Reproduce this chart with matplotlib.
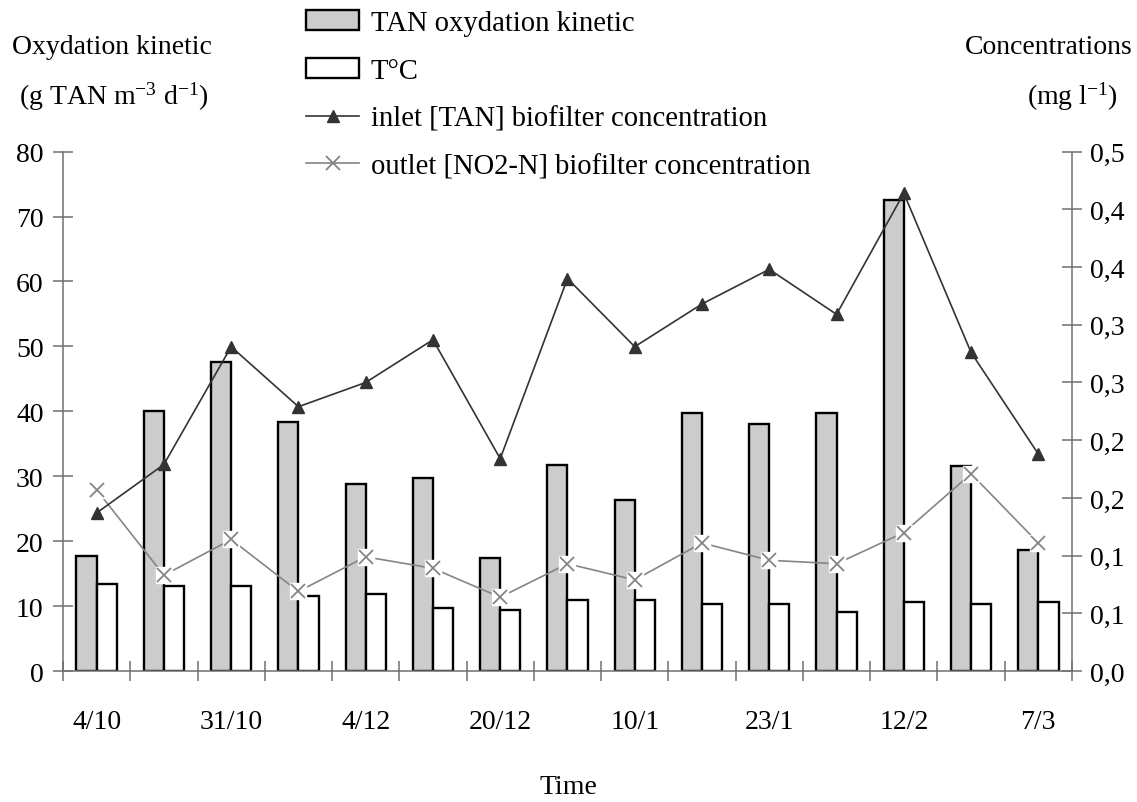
import numpy as np
import matplotlib.pyplot as plt
from matplotlib.patches import Patch
from matplotlib.lines import Line2D

plt.rcParams['font.family'] = ['Liberation Serif', 'DejaVu Serif']
plt.rcParams['mathtext.fontset'] = 'custom'
plt.rcParams['mathtext.rm'] = 'Liberation Serif'
plt.rcParams['mathtext.it'] = 'Liberation Serif:italic'

# -----------------------------
# Data
# -----------------------------
dates = ['4/10', '', '31/10', '', '4/12', '', '20/12', '', '10/1', '',
         '23/1', '', '12/2', '', '7/3']

tan_kinetic = [17.7, 40.0, 47.6, 38.4, 28.8, 29.7, 17.4, 31.8, 26.4, 39.8,
               38.0, 39.8, 72.5, 31.6, 18.6]
temp_c = [13.4, 13.1, 13.1, 11.6, 11.8, 9.7, 9.4, 11.0, 11.0, 10.3,
          10.3, 9.1, 10.6, 10.3, 10.6]
inlet_tan = [0.137, 0.179, 0.281, 0.229, 0.250, 0.287, 0.184, 0.340, 0.281,
             0.318, 0.348, 0.309, 0.414, 0.276, 0.188]
outlet_no2 = [0.157, 0.083, 0.114, 0.069, 0.099, 0.089, 0.064, 0.093, 0.079,
              0.111, 0.096, 0.093, 0.120, 0.171, 0.111]

left_ticks = [0, 10, 20, 30, 40, 50, 60, 70, 80]
right_ticks = [0, 0.05, 0.10, 0.15, 0.20, 0.25, 0.30, 0.35, 0.40, 0.45]
right_labels = ['0,0', '0,1', '0,1', '0,2', '0,2', '0,3', '0,3', '0,4', '0,4', '0,5']

# -----------------------------
# Figure
# -----------------------------
fs = 20
axis_col = '#707070'
fig = plt.figure(figsize=(11.37, 8.03), dpi=100)
ax = fig.add_axes([0.0554, 0.163, 0.8874, 0.647])
ax2 = ax.twinx()
ax2.set_zorder(ax.get_zorder() + 1)
ax2.patch.set_visible(False)

x = np.arange(len(dates))
w = 0.3
ax.bar(x - w / 2, tan_kinetic, w, color='#cccccc', edgecolor='black', linewidth=1.7)
ax.bar(x + w / 2, temp_c, w, color='white', edgecolor='black', linewidth=1.7)

ax2.plot(x, inlet_tan, color='#333333', linewidth=1.2, marker='^',
         markersize=9, zorder=4)
ax2.plot(x, outlet_no2, color='#858585', linewidth=1.2, zorder=3)
ax2.plot(x, outlet_no2, linestyle='none', marker='s', markersize=11,
         color='white', zorder=3.1)
ax2.plot(x, outlet_no2, linestyle='none', marker='x', markersize=10,
         markeredgewidth=1.3, color='#858585', zorder=3.2)

ax.set_xlim(-0.5, len(dates) - 0.5)
ax.set_ylim(0, 80)
ax2.set_ylim(0, 0.45)

ax.set_yticks(left_ticks)
ax.set_yticklabels([str(v) for v in left_ticks])
ax2.set_yticks(right_ticks)
ax2.set_yticklabels(right_labels)

ax.set_xticks(np.arange(-0.5, len(dates), 1))
ax.set_xticklabels([])
ax.set_xticks(x, dates, minor=True)
ax.tick_params(axis='x', which='minor', length=0, pad=27, labelsize=fs)
ax.tick_params(axis='x', which='major', direction='inout', length=14,
               width=1.1, color=axis_col)
ax.tick_params(axis='y', direction='inout', length=14, width=1.1,
               color=axis_col, labelsize=fs, pad=7)
ax2.tick_params(axis='y', direction='inout', length=14, width=1.1,
                color=axis_col, labelsize=fs, pad=6)

for a in (ax, ax2):
    for s in a.spines.values():
        s.set_visible(False)
ax.spines['left'].set_visible(True)
ax.spines['bottom'].set_visible(True)
ax2.spines['right'].set_visible(True)
for s in (ax.spines['left'], ax.spines['bottom'], ax2.spines['right']):
    s.set_color(axis_col)
    s.set_linewidth(1.1)

# -----------------------------
# Axis titles
# -----------------------------
fig.text(112 / 1137, 1 - 47 / 803, 'Oxydation kinetic', ha='center', va='center', fontsize=fs)
fig.text(114 / 1137, 1 - 97 / 803, '(g TAN m$^{-3}$ d$^{-1}$)', ha='center', va='center', fontsize=fs)
fig.text(1133 / 1137, 1 - 47 / 803, 'Concentrations', ha='right', va='center', fontsize=fs)
fig.text(1118 / 1137, 1 - 97 / 803, '(mg l$^{-1}$)', ha='right', va='center', fontsize=fs)
fig.text(568 / 1137, 1 - 788 / 803, 'Time', ha='center', va='center', fontsize=fs)

# -----------------------------
# Legend
# -----------------------------
handles = [
    Patch(facecolor='#cccccc', edgecolor='black', linewidth=1.7),
    Patch(facecolor='white', edgecolor='black', linewidth=1.7),
    Line2D([], [], color='#333333', linewidth=1.2, marker='^', markersize=9),
    Line2D([], [], color='#858585', linewidth=1.2, marker='x', markersize=10,
           markeredgewidth=1.3),
]
labels = ['TAN oxydation kinetic', 'T°C', 'inlet [TAN] biofilter concentration',
          'outlet [NO2-N] biofilter concentration']
fig.legend(handles, labels, loc='upper left', bbox_to_anchor=(0.262, 0.997),
           frameon=False, fontsize=20.6, labelspacing=0.76, handlelength=1.85,
           handletextpad=0.4, borderpad=0.3, borderaxespad=0)

fig.savefig('out.png', dpi=100)
